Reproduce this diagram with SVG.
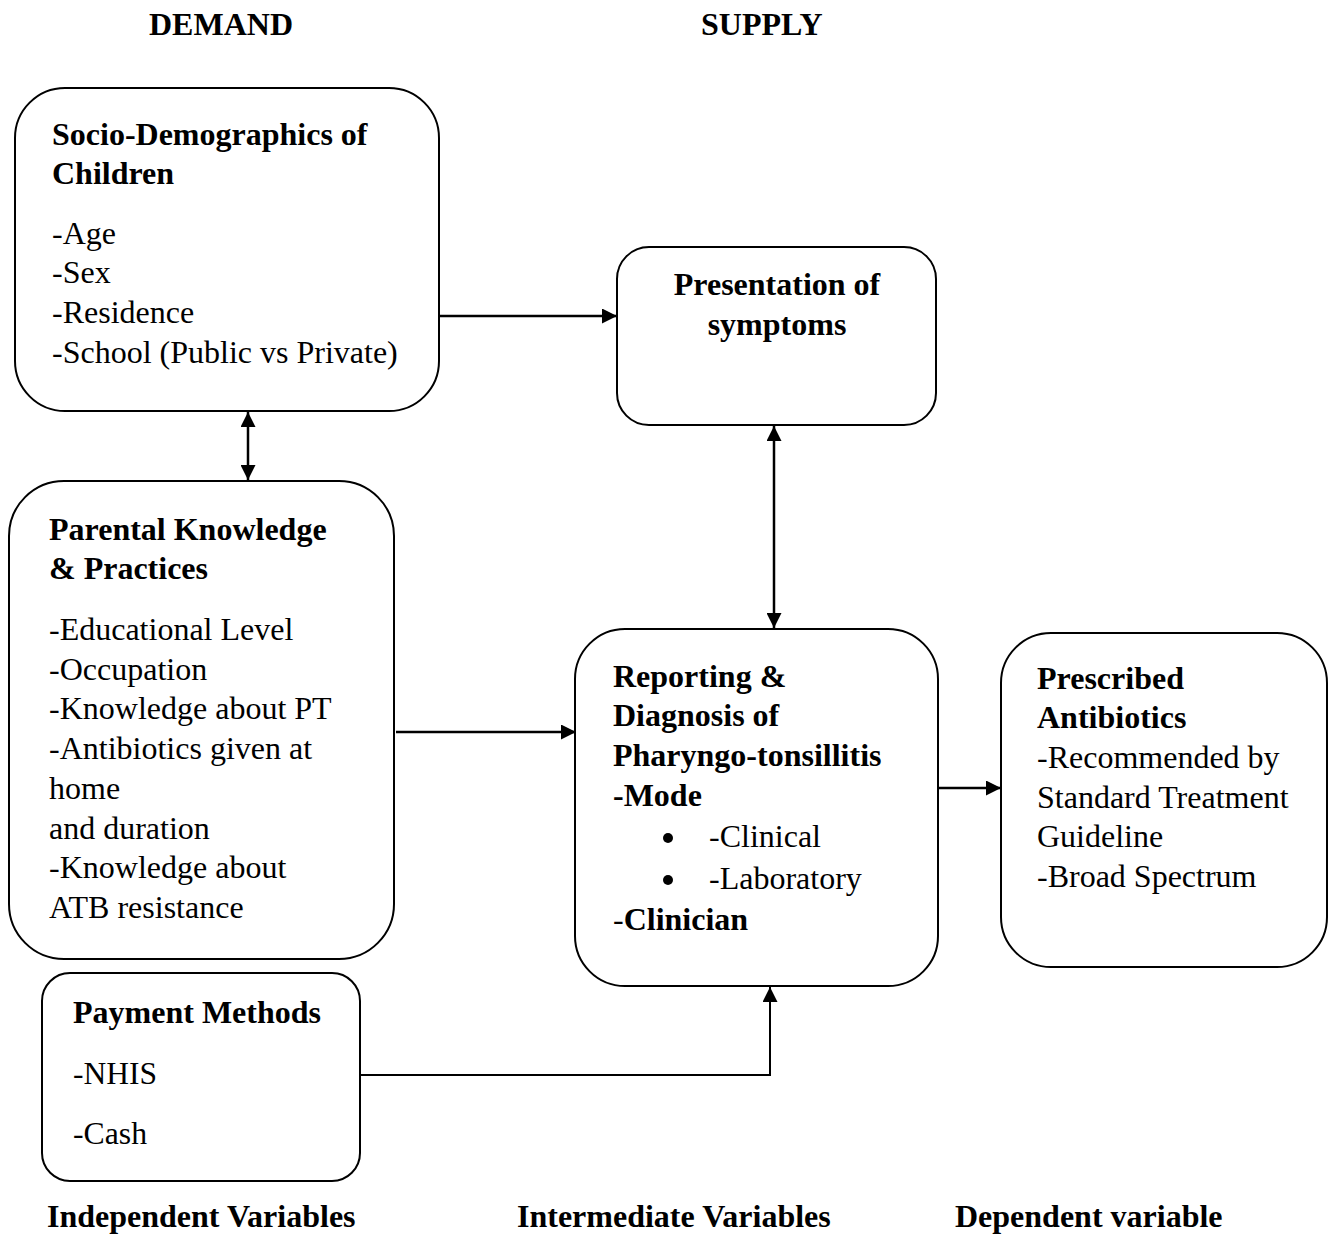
<svg xmlns="http://www.w3.org/2000/svg" width="1336" height="1244" viewBox="0 0 1336 1244">
<style>
text{font-family:"Liberation Serif","Times New Roman",serif;font-size:32px;fill:#000}
.b{font-weight:bold}
.box{fill:#fff;stroke:#000;stroke-width:2}
.ln{stroke:#000;stroke-width:2.5;fill:none}
</style>
<defs>
<marker id="ah" viewBox="0 0 15 15" refX="15" refY="7.5" markerWidth="15" markerHeight="15" markerUnits="userSpaceOnUse" orient="auto-start-reverse">
<path d="M0,0 L15,7.5 L0,15 Z" fill="#000"/>
</marker>
</defs>
<rect width="1336" height="1244" fill="#fff"/>
<g id="headers">
<text class="b" x="149" y="35">DEMAND</text>
<text class="b" x="701" y="35">SUPPLY</text>
<text class="b" x="47" y="1227">Independent Variables</text>
<text class="b" x="517" y="1227">Intermediate Variables</text>
<text class="b" x="955" y="1227">Dependent variable</text>
</g>
<g id="connectors">
<line class="ln" x1="439" y1="316" x2="617" y2="316" marker-end="url(#ah)"/>
<line class="ln" x1="248" y1="412" x2="248" y2="480" marker-start="url(#ah)" marker-end="url(#ah)"/>
<line class="ln" x1="774" y1="426" x2="774" y2="628" marker-start="url(#ah)" marker-end="url(#ah)"/>
<line class="ln" x1="396" y1="732" x2="576" y2="732" marker-end="url(#ah)"/>
<line class="ln" x1="938" y1="788" x2="1001" y2="788" marker-end="url(#ah)"/>
<polyline class="ln" points="360,1075 770,1075 770,987" marker-end="url(#ah)" style="stroke-width:2"/>
</g>
<g id="socio">
<rect class="box" x="15" y="88" width="424" height="323" rx="50"/>
<text class="b" x="52" y="145">Socio-Demographics of</text>
<text class="b" x="52" y="184">Children</text>
<text x="52" y="244">-Age</text>
<text x="52" y="283">-Sex</text>
<text x="52" y="323">-Residence</text>
<text x="52" y="363">-School (Public vs Private)</text>
</g>
<g id="presentation">
<rect class="box" x="617" y="247" width="319" height="178" rx="32"/>
<text class="b" x="777" y="295" text-anchor="middle">Presentation of</text>
<text class="b" x="777" y="335" text-anchor="middle">symptoms</text>
</g>
<g id="parental">
<rect class="box" x="9" y="481" width="385" height="478" rx="55"/>
<text class="b" x="49" y="540">Parental Knowledge</text>
<text class="b" x="49" y="579">&amp; Practices</text>
<text x="49" y="640">-Educational Level</text>
<text x="49" y="680">-Occupation</text>
<text x="49" y="719">-Knowledge about PT</text>
<text x="49" y="759">-Antibiotics given at</text>
<text x="49" y="799">home</text>
<text x="49" y="839">and duration</text>
<text x="49" y="878">-Knowledge about</text>
<text x="49" y="918">ATB resistance</text>
</g>
<g id="reporting">
<rect class="box" x="575" y="629" width="363" height="357" rx="50"/>
<text class="b" x="613" y="687">Reporting &amp;</text>
<text class="b" x="613" y="726">Diagnosis of</text>
<text class="b" x="613" y="766">Pharyngo-tonsillitis</text>
<text class="b" x="613" y="806">-Mode</text>
<circle cx="668" cy="838" r="5"/>
<text x="709" y="847">-Clinical</text>
<circle cx="668" cy="880" r="5"/>
<text x="709" y="889">-Laboratory</text>
<text x="613" y="930">-<tspan class="b">Clinician</tspan></text>
</g>
<g id="prescribed">
<rect class="box" x="1001" y="633" width="326" height="334" rx="50"/>
<text class="b" x="1037" y="689">Prescribed</text>
<text class="b" x="1037" y="728">Antibiotics</text>
<text x="1037" y="768">-Recommended by</text>
<text x="1037" y="808">Standard Treatment</text>
<text x="1037" y="847">Guideline</text>
<text x="1037" y="887">-Broad Spectrum</text>
</g>
<g id="payment">
<rect class="box" x="42" y="973" width="318" height="208" rx="28"/>
<text class="b" x="73" y="1023" textLength="248" lengthAdjust="spacingAndGlyphs">Payment Methods</text>
<text x="73" y="1084" textLength="84" lengthAdjust="spacingAndGlyphs">-NHIS</text>
<text x="73" y="1144" textLength="74" lengthAdjust="spacingAndGlyphs">-Cash</text>
</g>
</svg>
